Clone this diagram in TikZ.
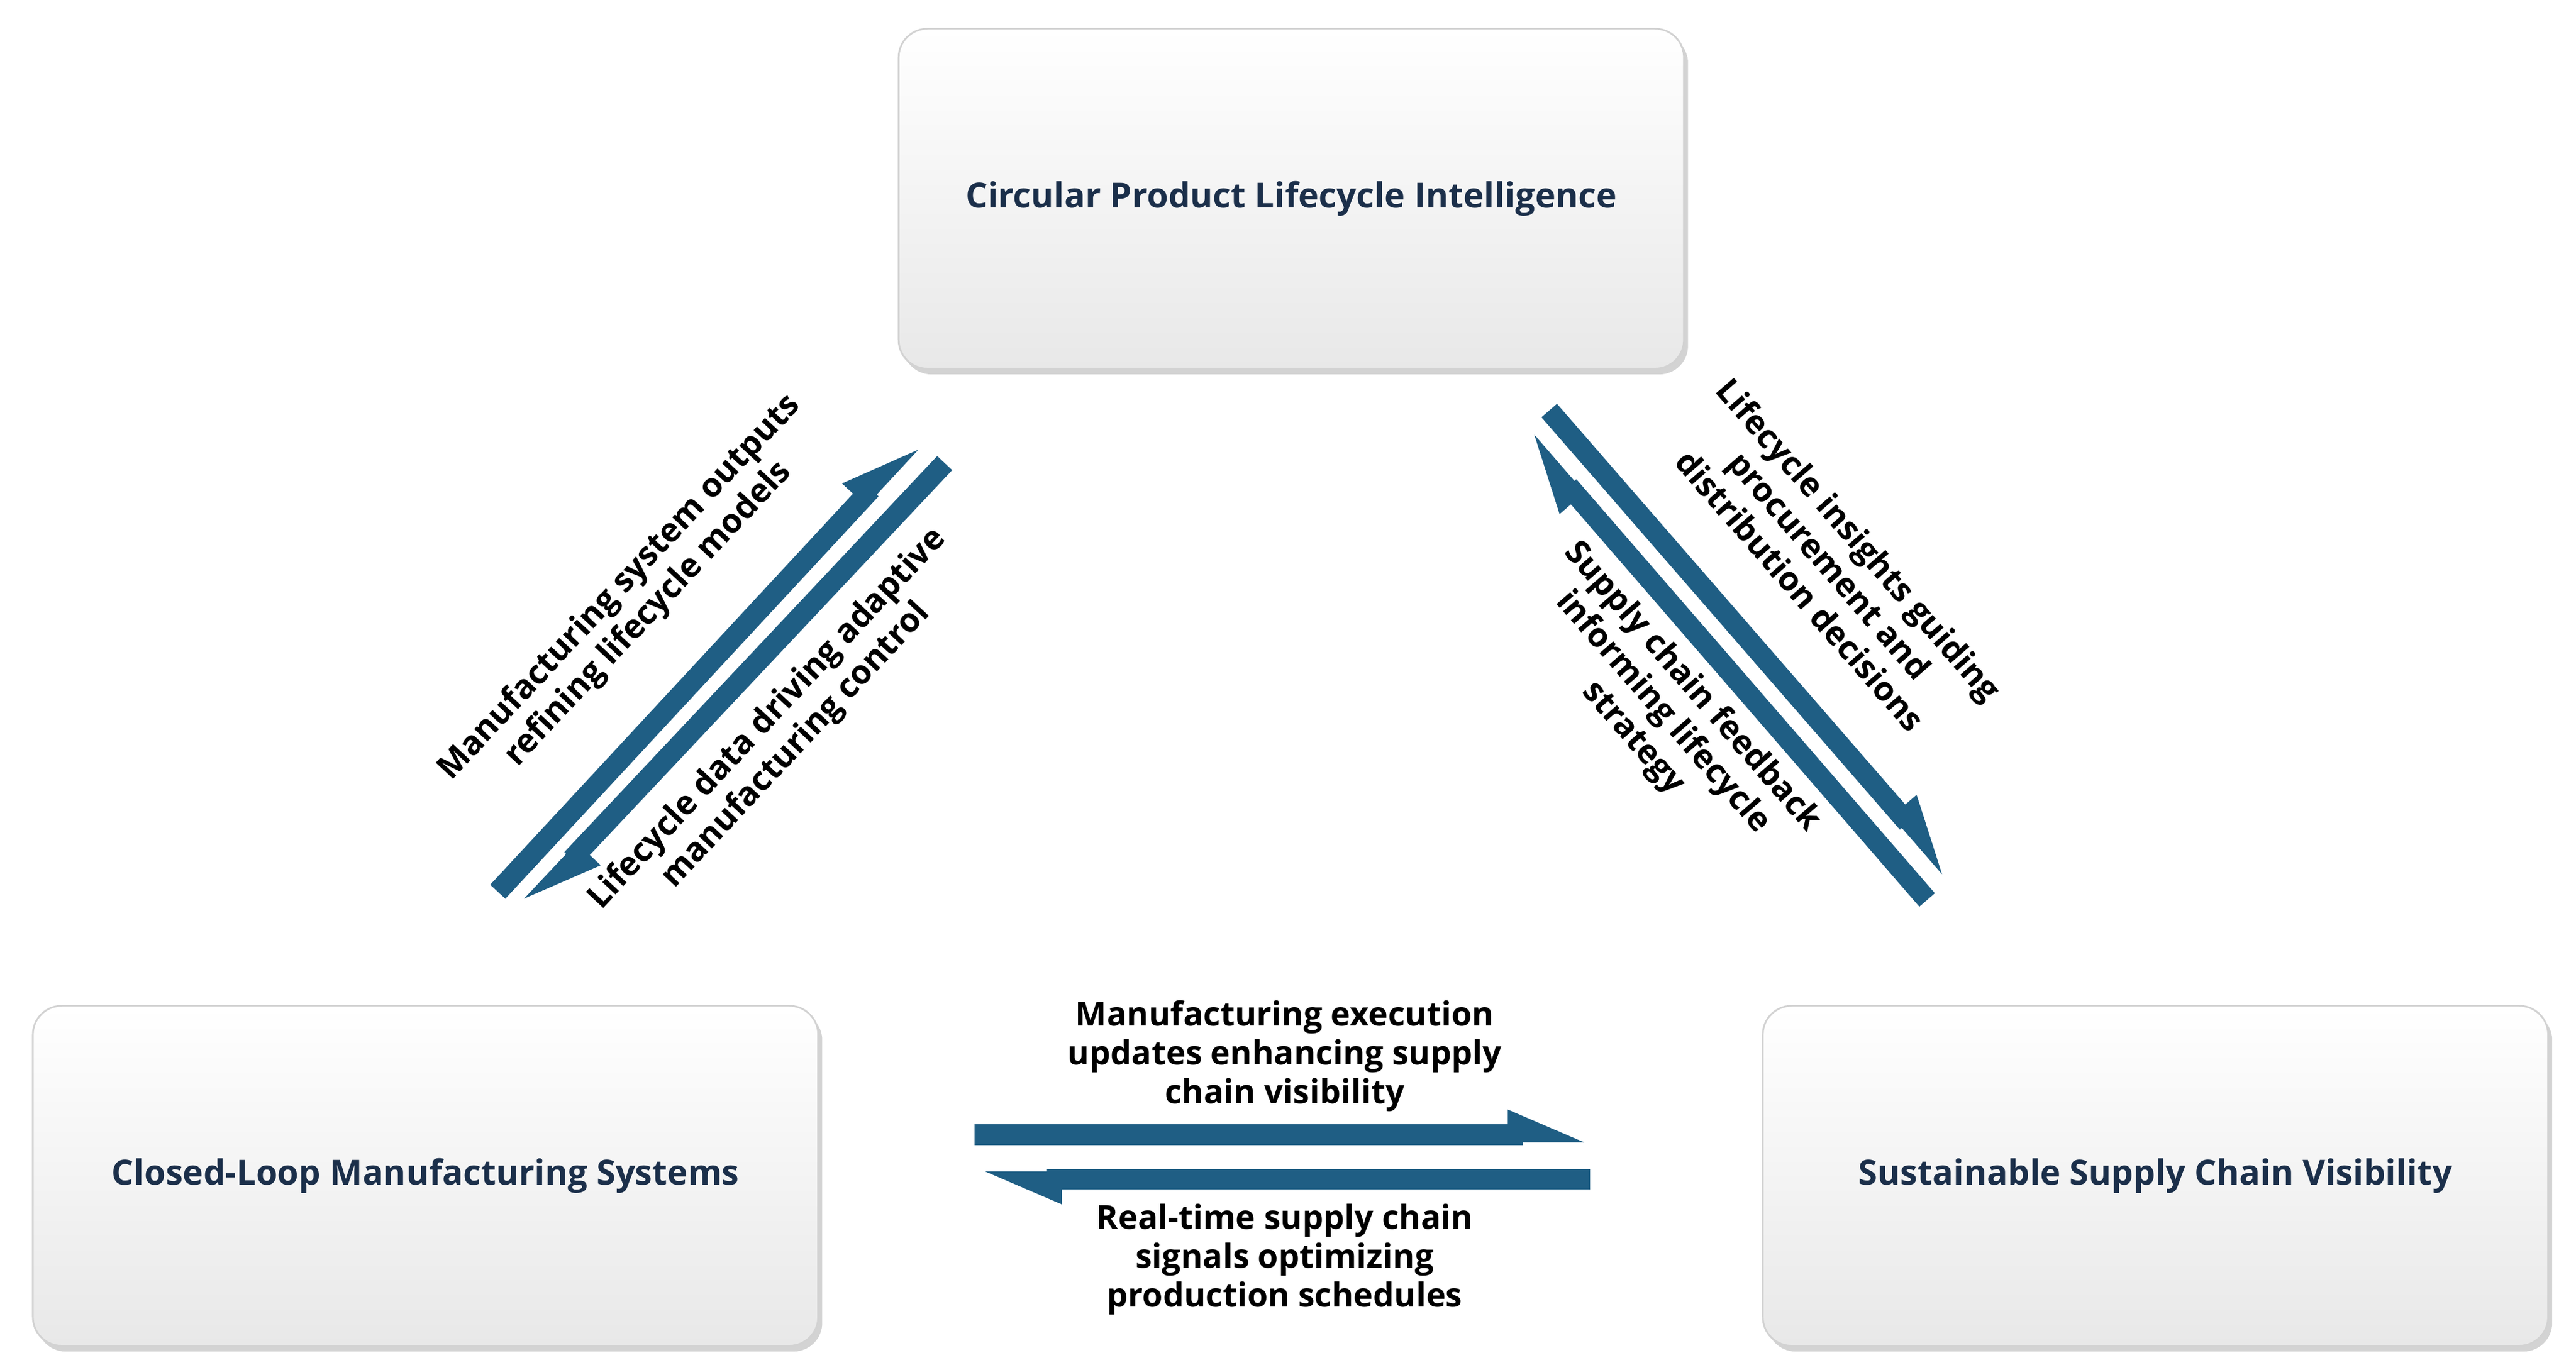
\documentclass[tikz,border=0pt]{standalone}
\usepackage{fontspec}
\setmainfont{Open Sans}
\usetikzlibrary{arrows.meta,shadows,calc}
\definecolor{arr}{HTML}{1F5E84}
\definecolor{txt}{HTML}{1B2F4A}
\begin{document}
\begin{tikzpicture}[x=0.02cm,y=-0.02cm,
 box/.style={draw=gray!35,line width=0.6pt,rounded corners=0.35cm,top color=white,bottom color=gray!18,
   drop shadow={shadow xshift=0.05cm,shadow yshift=-0.07cm,opacity=0.35},
   minimum width=478*0.02cm,minimum height=207*0.02cm,font=\bfseries\fontsize{12}{15}\selectfont,text=txt},
 al/.style={draw=arr,line width=0.25cm},
 hl/.style={-{Triangle[left,length=0.75cm,width=0.55cm]}},
 lab/.style={font=\bfseries\fontsize{11.5}{13.5}\selectfont,align=center,text=black}]
\useasboundingbox (0,0) rectangle (1568,834);
\node[box] (top) at (786,121) {Circular Product Lifecycle Intelligence};
\node[box] (left) at (259,716) {Closed-Loop Manufacturing Systems};
\node[box] (right) at (1312,716) {Sustainable Supply Chain Visibility};
\coordinate (a1) at (303,543); \coordinate (b1) at (558,268);
\coordinate (a2) at (575,282); \coordinate (b2) at (320,553);
\coordinate (a3) at (943,250); \coordinate (b3) at (1188,532);
\coordinate (a4) at (1173,548); \coordinate (b4) at (928,265);
\coordinate (a5) at (593,691); \coordinate (b5) at (968,691);
\coordinate (a6) at (968,718); \coordinate (b6) at (596,718);
\draw[al,hl] (a1) -- (b1);
\draw[al,hl] (a2) -- (b2);
\draw[al,hl] (a3) -- (b3);
\draw[al,hl] (a4) -- (b4);
\draw[al,hl] (a5) -- (b5);
\draw[al,hl] (a6) -- (b6);
\node[lab,rotate=47] (l1) at (386,366) {Manufacturing system outputs\\refining lifecycle models};
\node[lab,rotate=47] (l2) at (476,446) {Lifecycle data driving adaptive\\manufacturing control};
\node[lab,rotate=-49] (l3) at (1114,344) {Lifecycle insights guiding\\procurement and\\distribution decisions};
\node[lab,rotate=-49] (l4) at (1012,434) {Supply chain feedback\\informing lifecycle\\strategy};
\node[lab] (l5) at (782,643) {Manufacturing execution\\updates enhancing supply\\chain visibility};
\node[lab] (l6) at (782,767) {Real-time supply chain\\signals optimizing\\production schedules};
\end{tikzpicture}
\end{document}
